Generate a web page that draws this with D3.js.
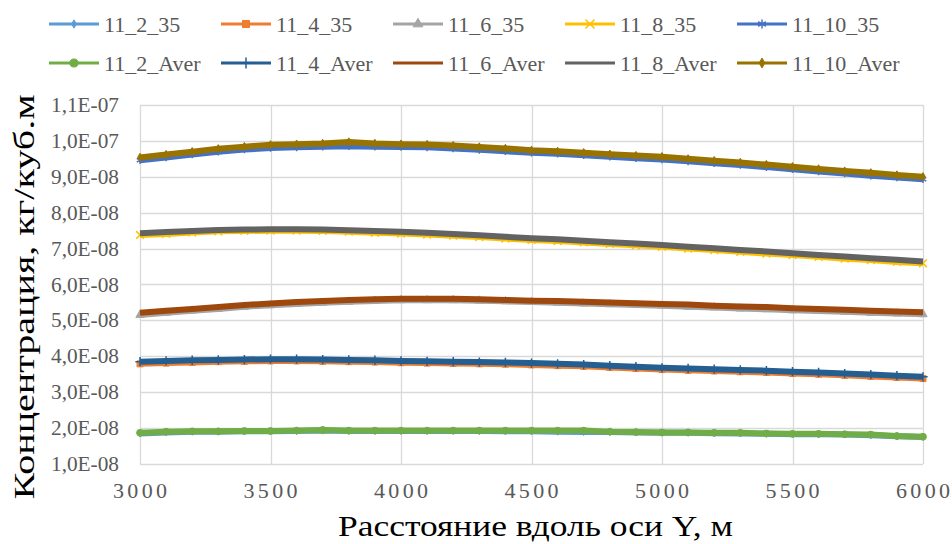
<!DOCTYPE html>
<html>
<head>
	<meta charset="utf-8">
	<title>Концентрация</title>
	<style>
		body { margin: 0; background: #fff; }
		text { font-family: "Liberation Serif", "Times New Roman", serif; }
	</style>
</head>
<body>
	<div id="chart"></div>
	<script src="https://cdn.jsdelivr.net/npm/d3@7/dist/d3.min.js"></script>
	<script>
		// distances along Y, m (every 100 m)
		var distances = d3.range(3000, 6001, 100);

		// concentrations, in units of 1E-08 kg/m3
		var s11_2_35 = [1.85,1.88,1.90,1.90,1.91,1.91,1.92,1.93,1.92,1.92,1.92,1.92,1.92,1.92,1.91,1.91,1.90,1.89,1.89,1.88,1.87,1.87,1.86,1.85,1.84,1.83,1.83,1.82,1.80,1.77,1.75];
		var s11_4_35 = [3.79,3.81,3.83,3.85,3.86,3.87,3.87,3.86,3.85,3.84,3.82,3.81,3.80,3.79,3.78,3.76,3.74,3.72,3.69,3.66,3.63,3.61,3.59,3.57,3.55,3.52,3.50,3.47,3.44,3.41,3.38];
		var s11_6_35 = [5.15,5.21,5.27,5.32,5.38,5.42,5.46,5.49,5.52,5.54,5.56,5.56,5.56,5.55,5.53,5.51,5.49,5.47,5.45,5.43,5.41,5.38,5.36,5.33,5.31,5.28,5.26,5.24,5.21,5.19,5.17];
		var s11_8_35 = [7.38,7.41,7.45,7.48,7.49,7.50,7.50,7.49,7.47,7.44,7.42,7.39,7.36,7.32,7.28,7.24,7.21,7.17,7.13,7.09,7.05,7.00,6.96,6.91,6.86,6.82,6.77,6.72,6.68,6.63,6.59];
		var s11_10_35 = [9.46,9.54,9.62,9.70,9.76,9.80,9.82,9.84,9.85,9.84,9.83,9.82,9.79,9.75,9.71,9.67,9.64,9.60,9.56,9.52,9.48,9.43,9.38,9.33,9.27,9.21,9.15,9.09,9.03,8.98,8.93];
		var s11_2_Aver = [1.87,1.90,1.91,1.91,1.92,1.92,1.93,1.95,1.93,1.93,1.93,1.93,1.93,1.93,1.93,1.93,1.93,1.93,1.90,1.89,1.88,1.88,1.87,1.87,1.85,1.84,1.84,1.83,1.82,1.78,1.76];
		var s11_4_Aver = [3.85,3.87,3.89,3.90,3.91,3.92,3.92,3.91,3.90,3.89,3.87,3.86,3.85,3.84,3.83,3.81,3.79,3.77,3.74,3.71,3.68,3.66,3.64,3.62,3.60,3.57,3.55,3.52,3.49,3.46,3.43];
		var s11_6_Aver = [5.21,5.27,5.32,5.37,5.43,5.47,5.51,5.54,5.57,5.59,5.60,5.60,5.60,5.59,5.57,5.55,5.54,5.52,5.50,5.48,5.46,5.44,5.41,5.39,5.37,5.34,5.32,5.30,5.27,5.25,5.23];
		var s11_8_Aver = [7.43,7.46,7.49,7.52,7.53,7.54,7.54,7.53,7.51,7.49,7.47,7.44,7.41,7.37,7.33,7.29,7.26,7.22,7.18,7.14,7.10,7.05,7.01,6.96,6.92,6.87,6.82,6.78,6.73,6.69,6.64];
		var s11_10_Aver = [9.54,9.62,9.70,9.78,9.84,9.89,9.91,9.93,9.97,9.93,9.91,9.90,9.87,9.83,9.79,9.74,9.71,9.67,9.63,9.59,9.56,9.50,9.45,9.40,9.34,9.28,9.22,9.16,9.11,9.05,9.00];
		var unit = 1e-8;

		var seriesNames = ['11_2_35','11_4_35','11_6_35','11_8_35','11_10_35','11_2_Aver','11_4_Aver','11_6_Aver','11_8_Aver','11_10_Aver'];
		var seriesValues = [s11_2_35, s11_4_35, s11_6_35, s11_8_35, s11_10_35, s11_2_Aver, s11_4_Aver, s11_6_Aver, s11_8_Aver, s11_10_Aver];

		var xTicks = [3000, 3500, 4000, 4500, 5000, 5500, 6000];
		var yTicks = [1, 2, 3, 4, 5, 6, 7, 8, 9, 10, 11];
		var yTickLabels = ['1,0E-08','2,0E-08','3,0E-08','4,0E-08','5,0E-08','6,0E-08','7,0E-08','8,0E-08','9,0E-08','1,0E-07','1,1E-07'];

		var colors = ['#5b9bd5','#ed7d31','#a5a5a5','#ffc000','#4472c4','#70ad47','#255e91','#9e480e','#636363','#997300'];
		var markers = [d3.symbolDiamond, d3.symbolSquare, d3.symbolTriangle, d3.symbolTimes || d3.symbolX, d3.symbolAsterisk, d3.symbolCircle, d3.symbolPlus, null, null, d3.symbolDiamond];
		var markerSize = [14, 36, 30, 40, 40, 36, 30, 0, 0, 20];
		var strokeMarker = [false, false, false, true, true, false, true, false, false, false];

		var W = 952, H = 544;
		var svg = d3.select('#chart').append('svg')
			.attr('width', W).attr('height', H)
			.attr('font-family', '"Liberation Serif", "Times New Roman", serif');

		var x = d3.scaleLinear().domain([3000, 6000]).range([140, 923]);
		var y = d3.scaleLinear().domain([1 * unit, 11 * unit]).range([464, 105]);

		// grid
		svg.append('g').selectAll('line.h').data(yTicks).enter().append('line')
			.attr('x1', 140).attr('x2', 923)
			.attr('y1', function (d) { return Math.round(y(d * unit)) + 0.5; })
			.attr('y2', function (d) { return Math.round(y(d * unit)) + 0.5; })
			.attr('stroke', '#d9d9d9').attr('stroke-width', 1.3);
		svg.append('g').selectAll('line.v').data(xTicks).enter().append('line')
			.attr('y1', 105).attr('y2', 464)
			.attr('x1', function (d) { return Math.round(x(d)) + 0.5; })
			.attr('x2', function (d) { return Math.round(x(d)) + 0.5; })
			.attr('stroke', '#d9d9d9').attr('stroke-width', 1.3);

		// tick labels
		svg.append('g').selectAll('text').data(yTicks).enter().append('text')
			.attr('x', 119).attr('y', function (d) { return y(d * unit) + 7; })
			.attr('text-anchor', 'end')
			.attr('font-size', 21).attr('fill', '#595959')
			.attr('textLength', 68).attr('lengthAdjust', 'spacingAndGlyphs')
			.text(function (d, i) { return yTickLabels[i]; });
		svg.append('g').selectAll('text').data(xTicks).enter().append('text')
			.attr('x', function (d) { return x(d) - 27; }).attr('y', 498)
			.attr('font-size', 22).attr('fill', '#595959')
			.attr('textLength', 54).attr('lengthAdjust', 'spacing')
			.text(function (d) { return d; });

		// axis titles
		svg.append('text')
			.attr('transform', 'translate(34,297) rotate(-90)')
			.attr('text-anchor', 'middle')
			.attr('font-size', 29).attr('fill', '#000')
			.attr('textLength', 405).attr('lengthAdjust', 'spacingAndGlyphs')
			.text('Концентрация, кг/куб.м');
		svg.append('text')
			.attr('x', 338).attr('y', 536)
			.attr('font-size', 30).attr('fill', '#000')
			.attr('textLength', 395).attr('lengthAdjust', 'spacingAndGlyphs')
			.text('Расстояние вдоль оси Y, м');

		// series
		var lineFn = d3.line()
			.x(function (d, i) { return x(distances[i]); })
			.y(function (d) { return y(d * unit); });

		seriesValues.forEach(function (vals, k) {
			var g = svg.append('g');
			g.append('path').datum(vals)
				.attr('d', lineFn)
				.attr('fill', 'none')
				.attr('stroke', colors[k])
				.attr('stroke-width', 6)
				.attr('stroke-linejoin', 'round');
			if (markers[k]) {
				var sym = d3.symbol().type(markers[k]).size(markerSize[k]);
				g.selectAll('path.m').data(vals).enter().append('path')
					.attr('d', sym)
					.attr('transform', function (d, i) { return 'translate(' + x(distances[i]) + ',' + y(d * unit) + ')'; })
					.attr('fill', strokeMarker[k] ? 'none' : colors[k])
					.attr('stroke', colors[k])
					.attr('stroke-width', strokeMarker[k] ? 1.5 : 1);
			}
		});

		// legend
		var legendCols = [49, 221, 393, 565, 737];
		var legendRows = [24, 63];
		seriesNames.forEach(function (name, k) {
			var lx = legendCols[k % 5], ly = legendRows[Math.floor(k / 5)];
			var g = svg.append('g').attr('transform', 'translate(' + lx + ',' + ly + ')');
			g.append('line').attr('x1', 0).attr('x2', 50).attr('y1', 0).attr('y2', 0)
				.attr('stroke', colors[k]).attr('stroke-width', 3);
			if (markers[k]) {
				g.append('path')
					.attr('d', d3.symbol().type(markers[k]).size(markerSize[k] * 1.4))
					.attr('transform', 'translate(25,0)')
					.attr('fill', strokeMarker[k] ? 'none' : colors[k])
					.attr('stroke', colors[k])
					.attr('stroke-width', strokeMarker[k] ? 1.5 : 1);
			}
			g.append('text').attr('x', 55).attr('y', 8)
				.attr('font-size', 22).attr('fill', '#595959')
				.text(name);
		});
	</script>
</body>
</html>
